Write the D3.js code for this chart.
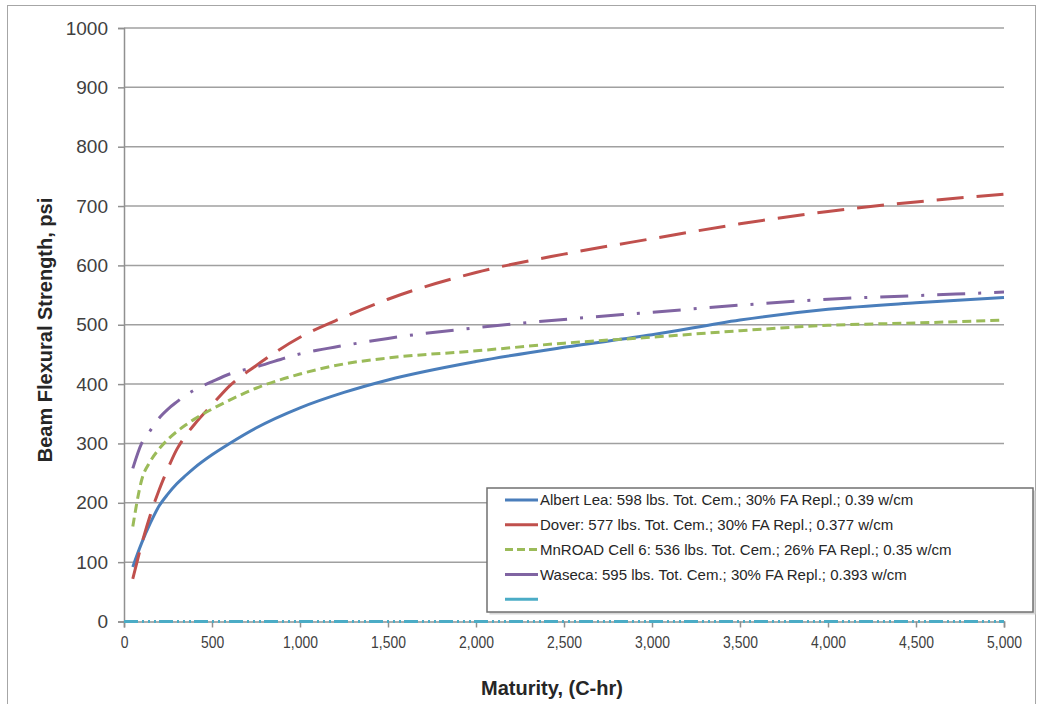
<!DOCTYPE html>
<html>
<head>
<meta charset="utf-8">
<script src="https://cdn.jsdelivr.net/npm/d3@7"></script>
<style>
  html, body { margin: 0; padding: 0; background: #fff; }
  svg { display: block; font-family: "Liberation Sans", Arial, sans-serif; }
</style>
</head>
<body>
<svg id="chart" width="1042" height="704"></svg>
<script>
// ---------- data ----------
const maturity   = [50, 100, 150, 200, 250, 300, 350, 400, 500, 600, 750, 1000, 1250, 1500, 2000, 2500, 3000, 3500, 4000, 4500, 5000];
const albertLea  = [92, 132, 166, 195, 215, 232, 246, 259, 281, 300, 326, 360, 386, 407, 438, 462, 483, 508, 526, 537, 546];
const dover      = [72, 130, 180, 222, 258, 290, 313, 332, 365, 397, 431, 479, 513, 543, 588, 619, 645, 670, 691, 707, 720];
const mnroad     = [160, 238, 270, 291, 307, 320, 331, 341, 358, 373, 393, 417, 434, 444, 456, 469, 479, 490, 499, 503, 508];
const waseca     = [258, 300, 322, 343, 358, 370, 381, 390, 404, 417, 429, 451, 465, 477, 495, 509, 521, 533, 543, 549, 555];
const blankMaturity = [0, 5000];
const blankValues   = [0, 0];

const seriesNames = [
  "Albert Lea: 598 lbs. Tot. Cem.; 30% FA Repl.; 0.39 w/cm",
  "Dover: 577 lbs. Tot. Cem.; 30% FA Repl.; 0.377 w/cm",
  "MnROAD Cell 6: 536 lbs. Tot. Cem.; 26% FA Repl.; 0.35 w/cm",
  "Waseca: 595 lbs. Tot. Cem.; 30% FA Repl.; 0.393 w/cm",
  ""
];
const yTicks = [0, 100, 200, 300, 400, 500, 600, 700, 800, 900, 1000];
const xTicks = [0, 500, 1000, 1500, 2000, 2500, 3000, 3500, 4000, 4500, 5000];
const xTitle = "Maturity, (C-hr)";
const yTitle = "Beam Flexural Strength, psi";

// ---------- styles ----------
const styles = [
  { color: "#4a7ebb", dash: null,               width: 3 },
  { color: "#c0504d", dash: "27,13",            width: 3 },
  { color: "#9bbb59", dash: "9,5",              width: 3 },
  { color: "#8064a2", dash: "28,13,3,13",       width: 3 },
  { color: "#4bacc6", dash: "14,4,2,4,2,4,2,3", width: 3 }
];

const series = [
  { x: maturity, y: albertLea },
  { x: maturity, y: dover },
  { x: maturity, y: mnroad },
  { x: maturity, y: waseca },
  { x: blankMaturity, y: blankValues }
];

const svg = d3.select("#chart");

// outer frame
svg.append("rect")
  .attr("x", 7.5).attr("y", 5.5).attr("width", 1028).attr("height", 705)
  .attr("fill", "none").attr("stroke", "#a6a6a6").attr("stroke-width", 1);

const x = d3.scaleLinear().domain([0, 5000]).range([124, 1004]);
const y = d3.scaleLinear().domain([0, 1000]).range([621.5, 28]);

// gridlines
svg.append("g").selectAll("line").data(yTicks.filter(d => d > 0)).join("line")
  .attr("x1", x(0)).attr("x2", x(5000))
  .attr("y1", d => y(d)).attr("y2", d => y(d))
  .attr("stroke", "#a0a0a0").attr("stroke-width", 1.5);

// y axis
const yAxis = svg.append("g").attr("transform", `translate(${x(0)},0)`)
  .call(d3.axisLeft(y).tickValues(yTicks).tickSize(6).tickPadding(10).tickFormat(d3.format("d")));
yAxis.select(".domain").attr("stroke", "#909090").attr("stroke-width", 1.5);
yAxis.selectAll(".tick line").attr("stroke", "#909090").attr("stroke-width", 1.5);
yAxis.selectAll(".tick text").attr("font-size", 19).attr("fill", "#404040")
  .attr("font-family", "Liberation Sans, Arial, sans-serif");

// x axis
const xAxis = svg.append("g").attr("transform", `translate(0,${y(0)})`)
  .call(d3.axisBottom(x).tickValues(xTicks).tickSize(6).tickPadding(8).tickFormat(d3.format(",")));
xAxis.select(".domain").attr("stroke", "#909090").attr("stroke-width", 1.5);
xAxis.selectAll(".tick line").attr("stroke", "#909090").attr("stroke-width", 1.5);
xAxis.selectAll(".tick text").attr("font-size", 17).attr("fill", "#404040")
  .attr("font-family", "Liberation Sans, Arial, sans-serif")
  .attr("transform", "scale(0.82,1)");

// lines
const line = d3.line().curve(d3.curveMonotoneX);
series.forEach((s, i) => {
  const pts = s.x.map((v, j) => [x(v), y(s.y[j])]);
  svg.append("path")
    .attr("d", line(pts))
    .attr("fill", "none")
    .attr("stroke", styles[i].color)
    .attr("stroke-width", styles[i].width)
    .attr("stroke-dasharray", styles[i].dash)
    .attr("stroke-linejoin", "round");
});

// axis titles
svg.append("text")
  .attr("x", 552).attr("y", 695)
  .attr("text-anchor", "middle")
  .attr("font-size", 20).attr("font-weight", "bold").attr("fill", "#262626")
  .text(xTitle);
svg.append("text")
  .attr("transform", "translate(52,330) rotate(-90)")
  .attr("text-anchor", "middle")
  .attr("font-size", 20).attr("font-weight", "bold").attr("fill", "#262626")
  .text(yTitle);

// legend
const lg = svg.append("g");
lg.append("rect")
  .attr("x", 489.5).attr("y", 490.5).attr("width", 546).attr("height", 124)
  .attr("fill", "#d8d8d8");
lg.append("rect")
  .attr("x", 487).attr("y", 488).attr("width", 546).attr("height", 124)
  .attr("fill", "#fff").attr("stroke", "#707070").attr("stroke-width", 1.5);
seriesNames.forEach((name, i) => {
  const cy = 500 + i * 24.8;
  lg.append("line")
    .attr("x1", 505).attr("x2", 538).attr("y1", cy).attr("y2", cy)
    .attr("stroke", styles[i].color).attr("stroke-width", 3)
    .attr("stroke-dasharray", i === 2 ? "8,4" : null);
  lg.append("text")
    .attr("x", 540).attr("y", cy).attr("dy", "0.35em")
    .attr("font-size", 15).attr("fill", "#262626")
    .text(name);
});
</script>
</body>
</html>
